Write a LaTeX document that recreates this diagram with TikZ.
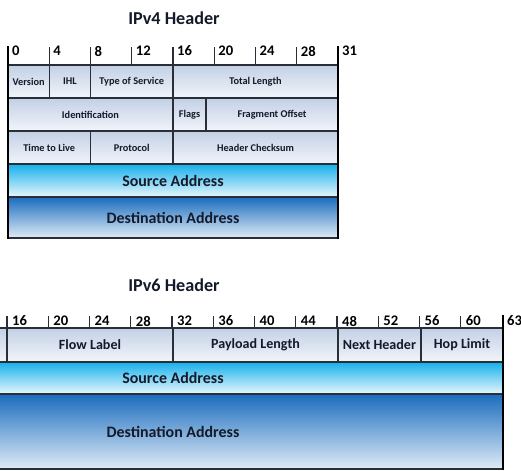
\documentclass[tikz,border=0pt]{standalone}
\usepackage{fontspec}
\setmainfont{Carlito}
\usetikzlibrary{positioning}
\definecolor{fieldtop}{RGB}{194,208,229}
\definecolor{fieldbot}{RGB}{242,245,250}
\definecolor{srctop}{RGB}{22,176,236}
\definecolor{srcbot}{RGB}{232,247,252}
\definecolor{dsttop}{RGB}{26,108,190}
\definecolor{dstbot}{RGB}{224,236,247}
\definecolor{edgegray}{RGB}{42,46,54}
\definecolor{labelink}{RGB}{20,26,42}

\begin{document}
\begin{tikzpicture}[x=0.03cm, y=-0.03cm, font=\bfseries, text=labelink,
    field/.style={draw=edgegray, line width=1.1pt, top color=fieldtop, bottom color=fieldbot},
    srcrow/.style={draw=edgegray, line width=1.1pt, top color=srctop, bottom color=srcbot},
    dstrow/.style={draw=edgegray, line width=1.1pt, top color=dsttop, bottom color=dstbot},
    tiny/.style={font=\bfseries\fontsize{8.8}{10}\selectfont},
    mid/.style={font=\bfseries\fontsize{12}{14}\selectfont},
    big/.style={font=\bfseries\fontsize{13.6}{16}\selectfont},
    headline/.style={font=\bfseries\fontsize{15.5}{18}\selectfont},
    bitnum/.style={font=\bfseries\fontsize{12.5}{14}\selectfont, anchor=west, inner sep=0pt, text=black},
    tickline/.style={draw=edgegray, line width=1.1pt},
    rim/.style={draw=black, line width=2.4pt}]
  \useasboundingbox (0,0) rectangle (521,471);
  \clip (0,0) rectangle (521,471);

  % IPv4
  \node[headline] (v4title) at (174,18) {IPv4 Header};
  \foreach \lab [count=\k from 0] in {0,4,8,12,16,20,24,28,31}
    \node[bitnum] (v4bit\lab) at ({8+41.25*\k+4},51) {\lab};
  \foreach \k in {1,...,7}
    \draw[tickline] ({8+41.25*\k},47) -- ++(0,18);

  \path[field] (8,65) rectangle (49.25,98) node[midway, tiny] (version) {Version};
  \path[field] (49.25,65) rectangle (90.5,98) node[midway, tiny] (ihl) {IHL};
  \path[field] (90.5,65) rectangle (173,98) node[midway, tiny] (tos) {Type of Service};
  \path[field] (173,65) rectangle (338,98) node[midway, tiny] (totlen) {Total Length};
  \path[field] (8,98) rectangle (173,131) node[midway, tiny] (ident) {Identification};
  \path[field] (173,98) rectangle (206,131) node[midway, tiny] (flags) {Flags};
  \path[field] (206,98) rectangle (338,131) node[midway, tiny] (fragoff) {Fragment Offset};
  \path[field] (8,131) rectangle (90.5,164) node[midway, tiny] (ttl) {Time to Live};
  \path[field] (90.5,131) rectangle (173,164) node[midway, tiny] (proto) {Protocol};
  \path[field] (173,131) rectangle (338,164) node[midway, tiny] (hdrsum) {Header Checksum};
  \path[srcrow] (8,164) rectangle (338,197) node[midway, big] (v4src) {Source Address};
  \path[dstrow] (8,197) rectangle (338,238) node[midway, big] (v4dst) {Destination Address};
  \draw[rim] (8,46) -- (8,239);
  \draw[rim] (338,46) -- (338,239);

  % IPv6 (cut off at the left edge)
  \node[headline] (v6title) at (174,285) {IPv6 Header};
  \foreach \lab [count=\k from 0] in {16,20,24,28,32,36,40,44,48,52,56,60,63}
    \node[bitnum] (v6bit\lab) at ({7+41.25*\k+5},321) {\lab};
  \foreach \k in {0,...,11}
    \draw[tickline] ({7+41.25*\k},316) -- ++(0,12);

  \path[field] (-40,328) rectangle (7,362);
  \path[field] (7,328) rectangle (173,362) node[midway, mid] (flowlbl) {Flow Label};
  \path[field] (173,328) rectangle (338,362) node[midway, mid] (paylen) {Payload Length};
  \path[field] (338,328) rectangle (421,362) node[midway, mid] (nexthdr) {Next Header};
  \path[field] (421,328) rectangle (503,362) node[midway, mid] (hoplim) {Hop Limit};
  \path[srcrow] (-157,362) rectangle (503,394) node[midway, big] (v6src) {Source Address};
  \path[dstrow] (-157,394) rectangle (503,469) node[midway, big] (v6dst) {Destination Address};
  \draw[rim] (503,315) -- (503,470);
\end{tikzpicture}
\end{document}
